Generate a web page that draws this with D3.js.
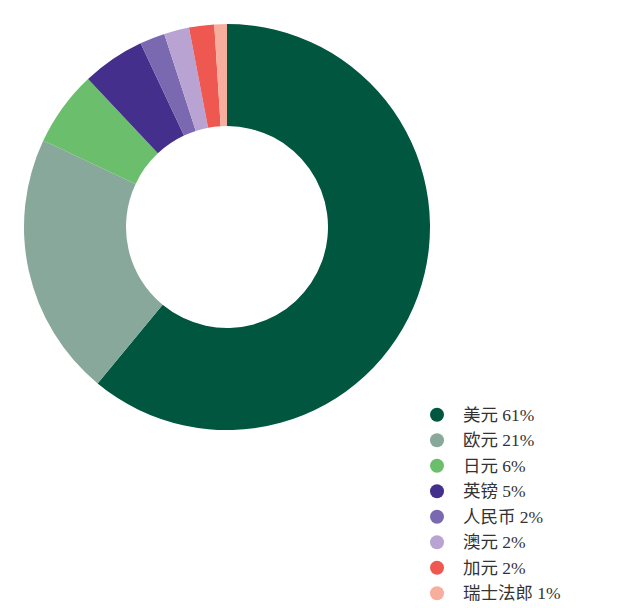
<!DOCTYPE html>
<html>
<head>
<meta charset="utf-8">
<script src="https://cdn.jsdelivr.net/npm/d3@7"></script>
<style>
  html, body { margin: 0; padding: 0; background: #fff; }
  .legend text { font-family: "Liberation Serif", "Noto Sans CJK SC", serif; font-size: 17.5px; fill: #333; }
</style>
</head>
<body>
<div id="chart"></div>
<script>
"use strict";

const names = ["美元", "欧元", "日元", "英镑", "人民币", "澳元", "加元", "瑞士法郎"];
const shares = [61, 21, 6, 5, 2, 2, 2, 1];
const colors = ["#00563e", "#87a89a", "#6bbf6c", "#452f8c", "#7a68b0", "#b8a3d3", "#ee5850", "#f7ae9c"];

function main() {
    const width = 618, height = 608;
    const svg = d3.select("#chart").append("svg")
        .attr("width", width).attr("height", height);

    const data = names.map(function (n, i) {
        return {name: n, value: shares[i], color: colors[i]};
    });

    const pie = d3.pie().sort(null).value(function (d) { return d.value; });
    const arc = d3.arc().innerRadius(101).outerRadius(203);

    const g = svg.append("g").attr("transform", "translate(227,227)");
    g.selectAll("path")
        .data(pie(data))
        .enter().append("path")
        .attr("d", arc)
        .attr("fill", function (d) { return d.data.color; });

    // legend
    const y = d3.scaleBand().domain(names).range([402, 606]);
    const legend = svg.append("g").attr("class", "legend");
    const row = legend.selectAll("g")
        .data(data)
        .enter().append("g")
        .attr("transform", function (d) {
            return "translate(437," + (y(d.name) + y.bandwidth() / 2) + ")";
        });
    row.append("circle").attr("r", 7).attr("fill", function (d) { return d.color; });
    row.append("text")
        .attr("x", 26)
        .attr("dy", "0.35em")
        .text(function (d) { return d.name + " " + d.value + "%"; });
}

main();
</script>
</body>
</html>
